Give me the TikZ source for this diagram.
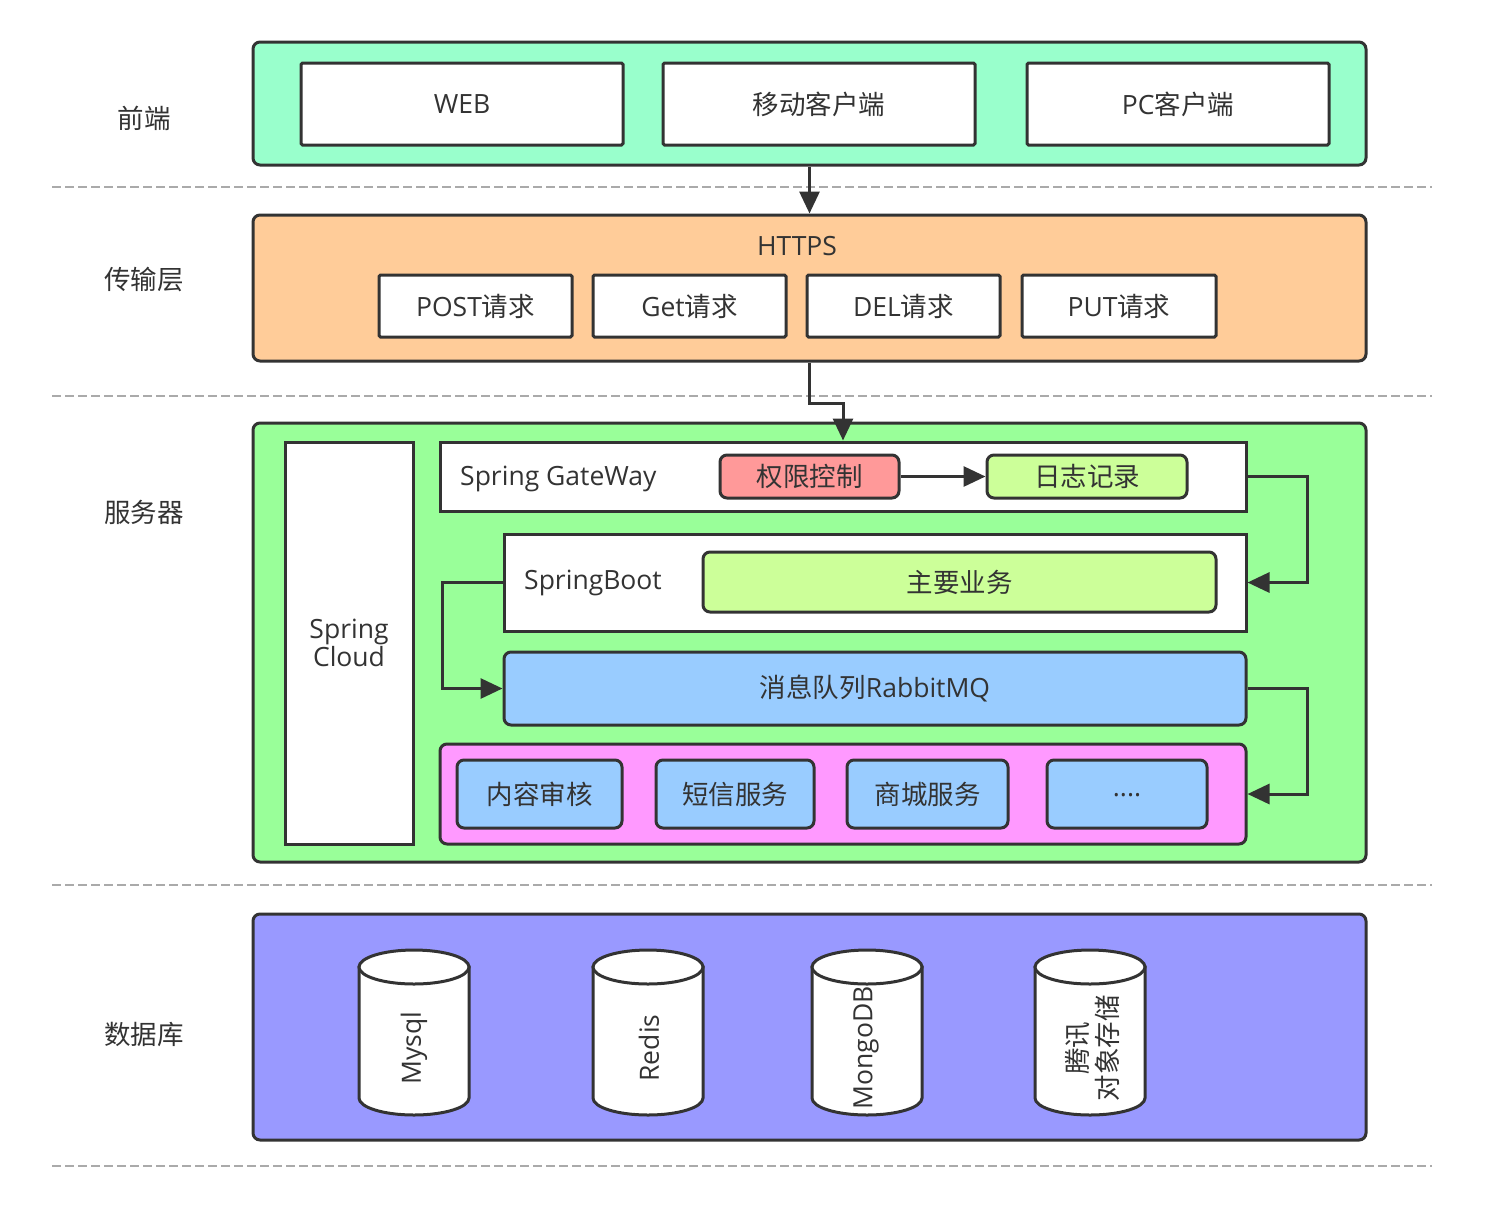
\documentclass[tikz,border=0pt]{standalone}
\usepackage{fontspec}
\setmainfont{Open Sans}
\newfontfamily\cjk{Noto Sans CJK SC}
\usetikzlibrary{arrows.meta}
\definecolor{ink}{HTML}{333333}
\definecolor{dashgray}{HTML}{AAAAAA}
\definecolor{frontc}{HTML}{99FFCC}
\definecolor{httpc}{HTML}{FFCC99}
\definecolor{serverc}{HTML}{99FF99}
\definecolor{dbc}{HTML}{9999FF}
\definecolor{redc}{HTML}{FF9999}
\definecolor{limec}{HTML}{CCFF99}
\definecolor{bluec}{HTML}{99CCFF}
\definecolor{pinkc}{HTML}{FF99FF}
\newcommand\fs{\fontsize{26.5}{32}\selectfont}
\tikzset{
  base/.style={draw=ink, line width=3pt, text=ink, inner sep=0pt, font=\fs, align=center},
  layer/.style={base, rounded corners=7pt},
  whitebox/.style={base, fill=white, rounded corners=1.5pt},
  roundbox/.style={base, rounded corners=7pt},
  label/.style={text=ink, font=\fs, inner sep=0pt},
  sep/.style={draw=dashgray, line width=2pt, dash pattern=on 9pt off 4pt},
  conn/.style={draw=ink, line width=3pt, -{Triangle[length=22pt,width=20pt]}},
  cylfill/.style={draw=ink, line width=3pt, fill=white},
}
\begin{document}
\begin{tikzpicture}[x=1pt,y=-1pt]
\useasboundingbox (0,0) rectangle (1504,1211);

% separators
\coordinate (s1a) at (52,187); \coordinate (s1b) at (1432,187);
\coordinate (s2a) at (52,396); \coordinate (s2b) at (1432,396);
\coordinate (s3a) at (52,885); \coordinate (s3b) at (1432,885);
\coordinate (s4a) at (52,1166); \coordinate (s4b) at (1432,1166);
\draw[sep] (s1a) -- (s1b);
\draw[sep] (s2a) -- (s2b);
\draw[sep] (s3a) -- (s3b);
\draw[sep] (s4a) -- (s4b);

% left labels
\node[label] (l1) at (144,118) {\cjk 前端};
\node[label] (l2) at (144,280) {\cjk 传输层};
\node[label] (l3) at (144,512) {\cjk 服务器};
\node[label] (l4) at (144,1034) {\cjk 数据库};

% layers
\node[layer, fill=frontc, minimum width=1113, minimum height=123] (front) at (809.5,103.5) {};
\node[layer, fill=httpc, minimum width=1113, minimum height=146] (https) at (809.5,288) {};
\node[layer, fill=serverc, minimum width=1113, minimum height=439] (server) at (809.5,642.5) {};
\node[layer, fill=dbc, minimum width=1113, minimum height=226] (db) at (809.5,1027) {};

% front end
\node[whitebox, minimum width=322, minimum height=82] (web) at (462,104) {WEB};
\node[whitebox, minimum width=312, minimum height=82] (mobile) at (819,104) {\cjk 移动客户端};
\node[whitebox, minimum width=302, minimum height=82] (pc) at (1178,104) {PC{\cjk 客户端}};

% transport
\node[label] (httpst) at (797,246) {HTTPS};
\node[whitebox, minimum width=193, minimum height=62] (post) at (475.5,306) {POST{\cjk 请求}};
\node[whitebox, minimum width=193, minimum height=62] (get) at (689.5,306) {Get{\cjk 请求}};
\node[whitebox, minimum width=193, minimum height=62] (del) at (903.5,306) {DEL{\cjk 请求}};
\node[whitebox, minimum width=194, minimum height=62] (put) at (1119,306) {PUT{\cjk 请求}};

% server
\node[base, fill=white, minimum width=128, minimum height=402] (cloud) at (349,643) {Spring\\[-4pt]Cloud};
\node[base, fill=white, minimum width=806, minimum height=69] (gw) at (843,476.5) {};
\node[label, anchor=west] (gwt) at (460,479) {Spring GateWay};
\node[roundbox, fill=redc, minimum width=179, minimum height=43] (qx) at (809.5,476.5) {\cjk 权限控制};
\node[roundbox, fill=limec, minimum width=200, minimum height=43] (rz) at (1087,476.5) {\cjk 日志记录};
\node[base, fill=white, minimum width=742, minimum height=97] (sb) at (875,582.5) {};
\node[label, anchor=west] (sbt) at (524,583) {SpringBoot};
\node[roundbox, fill=limec, minimum width=513, minimum height=60] (zy) at (959.5,582) {\cjk 主要业务};
\node[roundbox, fill=bluec, minimum width=742, minimum height=73] (mq) at (875,688.5) {{\cjk 消息队列}RabbitMQ};
\node[roundbox, fill=pinkc, minimum width=806, minimum height=100] (pink) at (843,794) {};
\node[roundbox, fill=bluec, minimum width=165, minimum height=68] (nr) at (539.5,794) {\cjk 内容审核};
\node[roundbox, fill=bluec, minimum width=158, minimum height=68] (dx) at (735,794) {\cjk 短信服务};
\node[roundbox, fill=bluec, minimum width=161, minimum height=68] (sc) at (927.5,794) {\cjk 商城服务};
\node[roundbox, fill=bluec, minimum width=160, minimum height=68] (more) at (1127,794) {\raisebox{-6pt}{....}};

% connectors
\draw[conn] (front.south) -- (https.north);
\draw[conn] (https.south) -- ++(0,41) -| (gw.north);
\draw[conn] (qx.east) -- (rz.west);
\draw[conn] (gw.east) -- ++(60,0) |- (sb.east);
\draw[conn] (sb.west) -- ++(-60,0) |- (mq.west);
\draw[conn] (mq.east) -- ++(60,0) |- (pink.east);

% databases
\foreach \cx in {414,648,867,1090}{
  \path[cylfill] (\cx-55,967) -- (\cx-55,1098)
     arc[start angle=180, end angle=0, x radius=55, y radius=17]
     -- (\cx+55,967) -- cycle;
  \path[cylfill] (\cx,967) ellipse[x radius=55, y radius=17];
}
\node[label, rotate=90] (mysql) at (414,1048) {Mysql};
\node[label, rotate=90] (redis) at (649,1048) {Redis};
\node[label, rotate=90] (mongo) at (866,1048) {MongoDB};
\node[label, rotate=90, align=center] (cos) at (1092,1048) {\cjk 腾讯\\[-2pt]\cjk 对象存储};
\end{tikzpicture}
\end{document}
